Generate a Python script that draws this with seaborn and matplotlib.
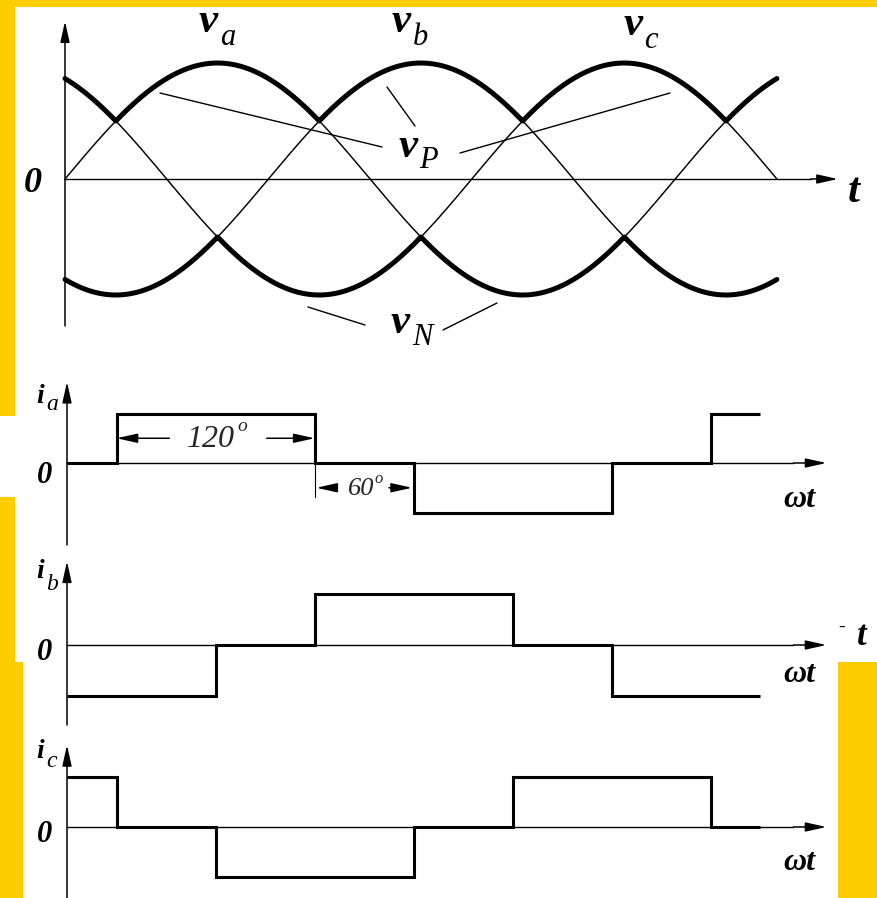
import numpy as np
import pandas as pd
import matplotlib
matplotlib.use("Agg")
import matplotlib.pyplot as plt
from matplotlib.patches import Rectangle
from matplotlib.lines import Line2D
from matplotlib.transforms import Affine2D
import seaborn as sns

sns.set_style("white")
plt.rcParams["font.family"] = ["Liberation Serif", "DejaVu Serif"]

W, H = 878, 898

# three-phase source voltages: per-unit amplitude and phase lag (degrees)
phase_names = ["a", "b", "c"]
phase_lag_deg = [0, 120, 240]
amplitude = 1.0
t_end_deg = 420

# 120-degree conduction line currents: switching angles and levels
ia_edges = [0, 30, 150, 210, 330, 390, 420]
ia_levels = [0, 1, 0, -1, 0, 1]
ib_edges = [0, 90, 150, 270, 330, 420]
ib_levels = [-1, 0, 1, 0, -1]
ic_edges = [0, 30, 90, 210, 270, 390, 420]
ic_levels = [1, 0, -1, 0, 1, 0]

YELLOW = "#FFCC00"
fig = plt.figure(figsize=(W / 100, H / 100), dpi=100, facecolor=YELLOW)

# pixel-space transform (origin top-left) for the framing and leaders
PX = Affine2D().scale(1 / W, -1 / H).translate(0, 1) + fig.transFigure

for (x0, y0, x1, y1) in [(15, 7, 878, 416), (0, 416, 878, 497),
                         (15, 497, 878, 662), (23, 662, 838, 898)]:
    fig.patches.append(Rectangle((x0, y1), x1 - x0, y0 - y1, transform=PX,
                                 facecolor="white", edgecolor="none", zorder=-5))


def panel(box, origin, xs, ys):
    x0, y0, x1, y1 = box
    ox, oy = origin
    ax = fig.add_axes([x0 / W, 1 - y1 / H, (x1 - x0) / W, (y1 - y0) / H])
    ax.set_xlim((x0 - ox) / xs, (x1 - ox) / xs)
    ax.set_ylim((oy - y1) / ys, (oy - y0) / ys)
    ax.axis("off")
    ax.set_zorder(1)
    return ax


def arrow(ax, tail, tip):
    ax.annotate("", xy=tip, xytext=tail, annotation_clip=False,
                arrowprops=dict(arrowstyle="-|>,head_length=0.9,head_width=0.2",
                                color="k", lw=1.1, shrinkA=0, shrinkB=0,
                                mutation_scale=14))


def txt(x, y, s, size, weight="normal", style="italic", ha="left"):
    fig.text(x / W, 1 - y / H, s, fontsize=size, fontweight=weight,
             fontstyle=style, ha=ha, va="baseline", color="k", zorder=3)


# ---------------- voltages ----------------
axv = panel((15, 7, 878, 416), (65, 179), 1.695, 116)
t = np.linspace(0, t_end_deg, 2101)
frames = []
for name, lag in zip(phase_names, phase_lag_deg):
    frames.append(pd.DataFrame({"deg": t, "v": amplitude * np.sin(np.radians(t - lag)),
                                "phase": name}))
volt = pd.concat(frames, ignore_index=True)
wide = volt.pivot(index="deg", columns="phase", values="v")
env = pd.DataFrame({"deg": wide.index, "vP": wide.max(axis=1).values,
                    "vN": wide.min(axis=1).values})

sns.lineplot(data=volt, x="deg", y="v", units="phase", estimator=None,
             color="k", lw=1.05, legend=False, ax=axv)
for col in ["vP", "vN"]:
    sns.lineplot(data=env, x="deg", y=col, estimator=None, color="k",
                 lw=3.6, legend=False, ax=axv)
axv.plot([0, 440], [0, 0], color="k", lw=1.0, clip_on=False)
arrow(axv, (440, 0), (456, 0))
axv.plot([0, 0], [-1.27, 1.2], color="k", lw=1.1, clip_on=False)
arrow(axv, (0, 1.2), (0, 1.36))

for lbl, (vx, vy, sx, sy) in {"a": (199, 32, 220, 45), "b": (392, 32, 413, 45),
                              "c": (624, 35, 644, 48), "P": (399, 157, 419, 168),
                              "N": (391, 333, 412, 345)}.items():
    txt(vx, vy, "v", 31, weight="bold")
    txt(sx, sy, lbl, 22)
txt(24, 192, "0", 26, weight="bold")
txt(848, 202, "t", 31, weight="bold")

for (xa, ya, xb, yb) in [(160, 93, 382, 147), (387, 87, 415, 126), (460, 153, 670, 93),
                         (308, 307, 365, 325), (443, 330, 497, 303)]:
    fig.lines.append(Line2D([xa, xb], [ya, yb], transform=PX, color="k", lw=1.0,
                            zorder=3))

# ---------------- line currents ----------------
cur_panels = [
    ("a", ia_edges, ia_levels, (15, 365, 878, 550), (67, 463), 49.5, -1.66, 403, 410, 483, 507),
    ("b", ib_edges, ib_levels, (15, 550, 878, 730), (67, 645), 51.0, -1.57, 578, 590, 660, 682),
    ("c", ic_edges, ic_levels, (15, 730, 878, 898), (67, 827), 50.0, -1.45, 758, 767, 842, 870),
]
axes_i = {}
for name, edges, levels, box, origin, ys, ybot, iy, sy, zy, wy in cur_panels:
    ax = panel(box, origin, 1.651, ys)
    axes_i[name] = ax
    ax.plot([0, 440], [0, 0], color="k", lw=1.0, clip_on=False)
    arrow(ax, (440, 0), (460, 0))
    ax.plot([0, 0], [ybot, 1.35], color="k", lw=1.1, clip_on=False)
    arrow(ax, (0, 1.35), (0, 1.64))
    sns.lineplot(x=edges, y=levels + [levels[-1]], drawstyle="steps-post",
                 estimator=None, color="k", lw=2.2, legend=False, ax=ax,
                 solid_joinstyle="miter", solid_capstyle="butt")
    txt(36, iy, "i", 20, weight="bold")
    txt(46, sy, name, 17)
    txt(37, zy, "0", 22, weight="bold")
    txt(783, wy, "ωt", 23, weight="bold")

# stray axis label at the right of the i_b trace
txt(838, 632, "-", 14, style="normal")
txt(857, 645, "t", 25, weight="bold")

# conduction-interval annotations on i_a
axa = axes_i["a"]
span120 = (ia_edges[1], ia_edges[2])
span60 = (ia_edges[2], ia_edges[3])
arrow(axa, (span120[0] + 32, 0.5), (span120[0], 0.5))
arrow(axa, (span120[1] - 29, 0.5), (span120[1], 0.5))
axa.text(87, 0.47, "120", fontsize=23, fontstyle="italic", ha="center", va="center")
axa.text(103, 0.74, "o", fontsize=14, fontstyle="italic", ha="left", va="center")
axa.plot([span60[0], span60[0]], [0, -0.69], color="k", lw=0.8)
arrow(axa, (span60[0] + 13, -0.5), (span60[0] + 1, -0.5))
arrow(axa, (span60[1] - 15, -0.5), (span60[1] - 1, -0.5))
axa.text(178, -0.52, "60", fontsize=19, fontstyle="italic", ha="center", va="center")
axa.text(186, -0.32, "o", fontsize=12, fontstyle="italic", ha="left", va="center")

fig.savefig("out.png", dpi=100, facecolor=YELLOW)
